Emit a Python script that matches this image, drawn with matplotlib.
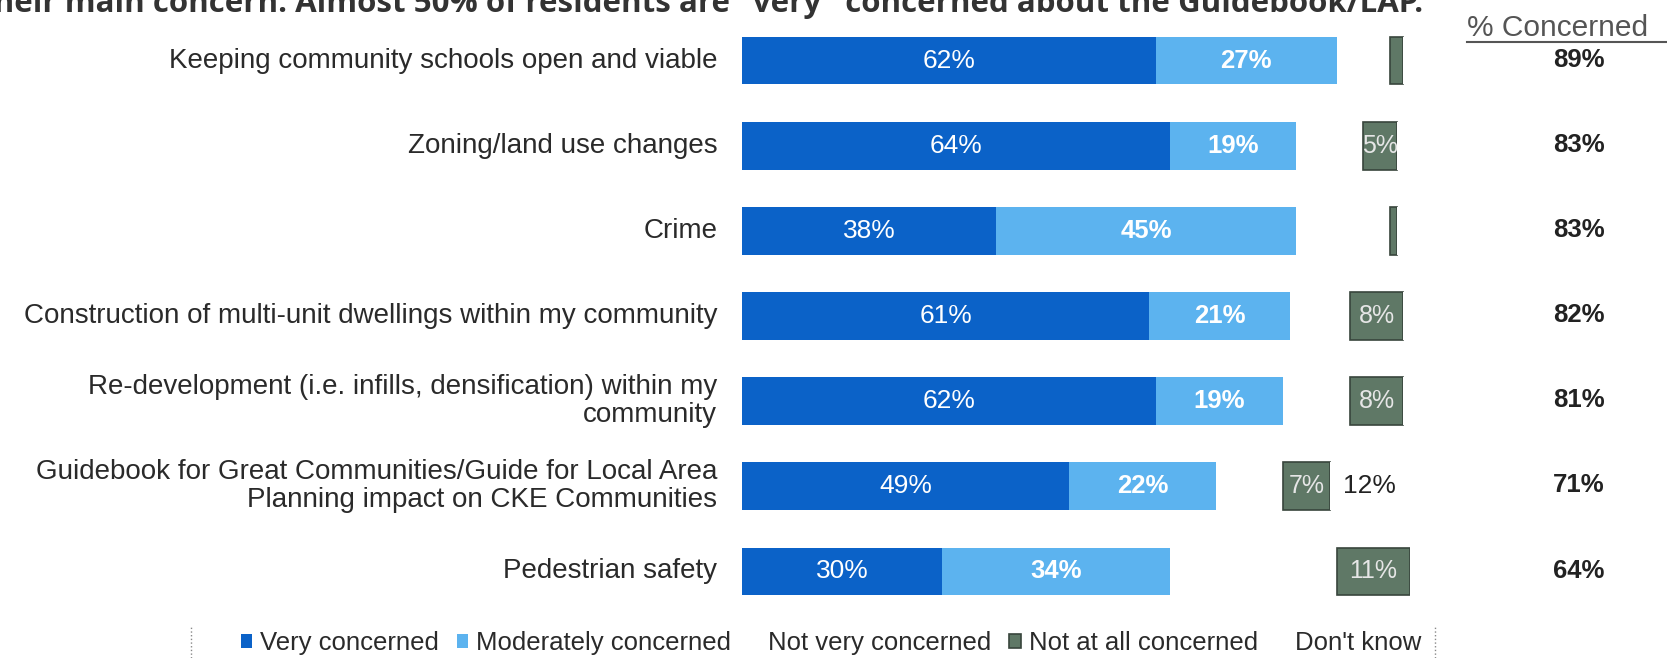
import matplotlib.pyplot as plt
from matplotlib.lines import Line2D
import numpy as np

# data
categories = [
    "Keeping community schools open and viable",
    "Zoning/land use changes",
    "Crime",
    "Construction of multi-unit dwellings within my community",
    "Re-development (i.e. infills, densification) within my\ncommunity",
    "Guidebook for Great Communities/Guide for Local Area\nPlanning impact on CKE Communities",
    "Pedestrian safety",
]
very = [62, 64, 38, 61, 62, 49, 30]
moderately = [27, 19, 45, 21, 19, 22, 34]
not_very = [8, 10, 14, 9, 10, 10, 25]
not_at_all = [2, 5, 1, 8, 8, 7, 11]
dont_know = [1, 2, 2, 1, 1, 12, 0]
pct_concerned = ["89%", "83%", "83%", "82%", "81%", "71%", "64%"]
series_names = ["Very concerned", "Moderately concerned", "Not very concerned",
                "Not at all concerned", "Don't know"]

plt.rcParams['font.family'] = ['Liberation Sans', 'DejaVu Sans']

fig = plt.figure(figsize=(16.67, 6.58), dpi=100, facecolor='white')
W, H = 1667, 658
ax = fig.add_axes([742 / W, 1 - 614 / H, 668 / W, 596 / H])

y = np.arange(len(categories))
series = [very, moderately, not_very, not_at_all, dont_know]
colors = ['#0b62c8', '#5cb3ef', 'white', '#5f7866', 'white']
edges = ['none', 'none', 'none', '#38453c', 'none']
left = np.zeros(len(categories))
bars = []
for vals, c, ec, name in zip(series, colors, edges, series_names):
    vals = np.array(vals, dtype=float)
    b = ax.barh(y, vals, left=left, height=0.56, color=c, edgecolor=ec,
                linewidth=1.2 if ec != 'none' else 0, label=name)
    bars.append(b)
    left += vals

# labels inside the bars
for i in range(len(categories)):
    ax.text(very[i] / 2, y[i], f"{very[i]}%", ha='center', va='center',
            color='white', fontsize=19)
    ax.text(very[i] + moderately[i] / 2, y[i], f"{moderately[i]}%", ha='center',
            va='center', color='white', fontsize=18.5, fontweight='bold')
    start = very[i] + moderately[i] + not_very[i]
    if not_at_all[i] >= 5:
        ax.text(start + not_at_all[i] / 2, y[i], f"{not_at_all[i]}%", ha='center',
                va='center', color='#e6e6e6', fontsize=18)
    if dont_know[i] >= 5:
        ax.text(start + not_at_all[i] + dont_know[i] / 2, y[i], f"{dont_know[i]}%",
                ha='center', va='center', color='#222222', fontsize=19)
    # category label
    ax.text(-3.7, y[i], categories[i], ha='right', va='center', fontsize=20,
            color='#2a2a2a', linespacing=1.1)
    # % concerned column
    fig.text(1579 / W, 1 - (60 + 85.1 * i) / H, pct_concerned[i], ha='center',
             va='center', fontsize=18.5, fontweight='bold', color='#222222')

ax.set_xlim(0, 100)
ax.set_ylim(len(categories) - 0.5, -0.5)
ax.axis('off')

# column header with underline
fig.text(1467 / W, 1 - 28 / H, "% Concerned", ha='left', va='center',
         fontsize=21.5, color='#555555')
fig.add_artist(Line2D([1467 / W, 1667 / W], [1 - 42 / H, 1 - 42 / H],
                      color='#555555', lw=1.5))

# clipped title line at the very top
fig.text(-0.012, 1 - 12 / H, 'their main concern. Almost 50% of residents are "very" concerned about the Guidebook/LAP.',
         ha='left', va='baseline', fontsize=22.5, fontweight='bold', color='#333333',
         family='Open Sans')

# legend
fig.legend(handles=bars, labels=series_names, loc='center', ncol=5,
           bbox_to_anchor=(831 / W, 1 - 643 / H), frameon=False, fontsize=18.5,
           handlelength=0.45, handleheight=0.45, handletextpad=0.3,
           columnspacing=0.7, labelcolor='#2a2a2a')

# dotted edges of the legend box
for xp in [191, 1435]:
    fig.add_artist(Line2D([xp / W, xp / W], [0, 1 - 627 / H], color='#888888',
                          lw=1, ls=':'))

plt.savefig('out.png', dpi=100, facecolor='white')
